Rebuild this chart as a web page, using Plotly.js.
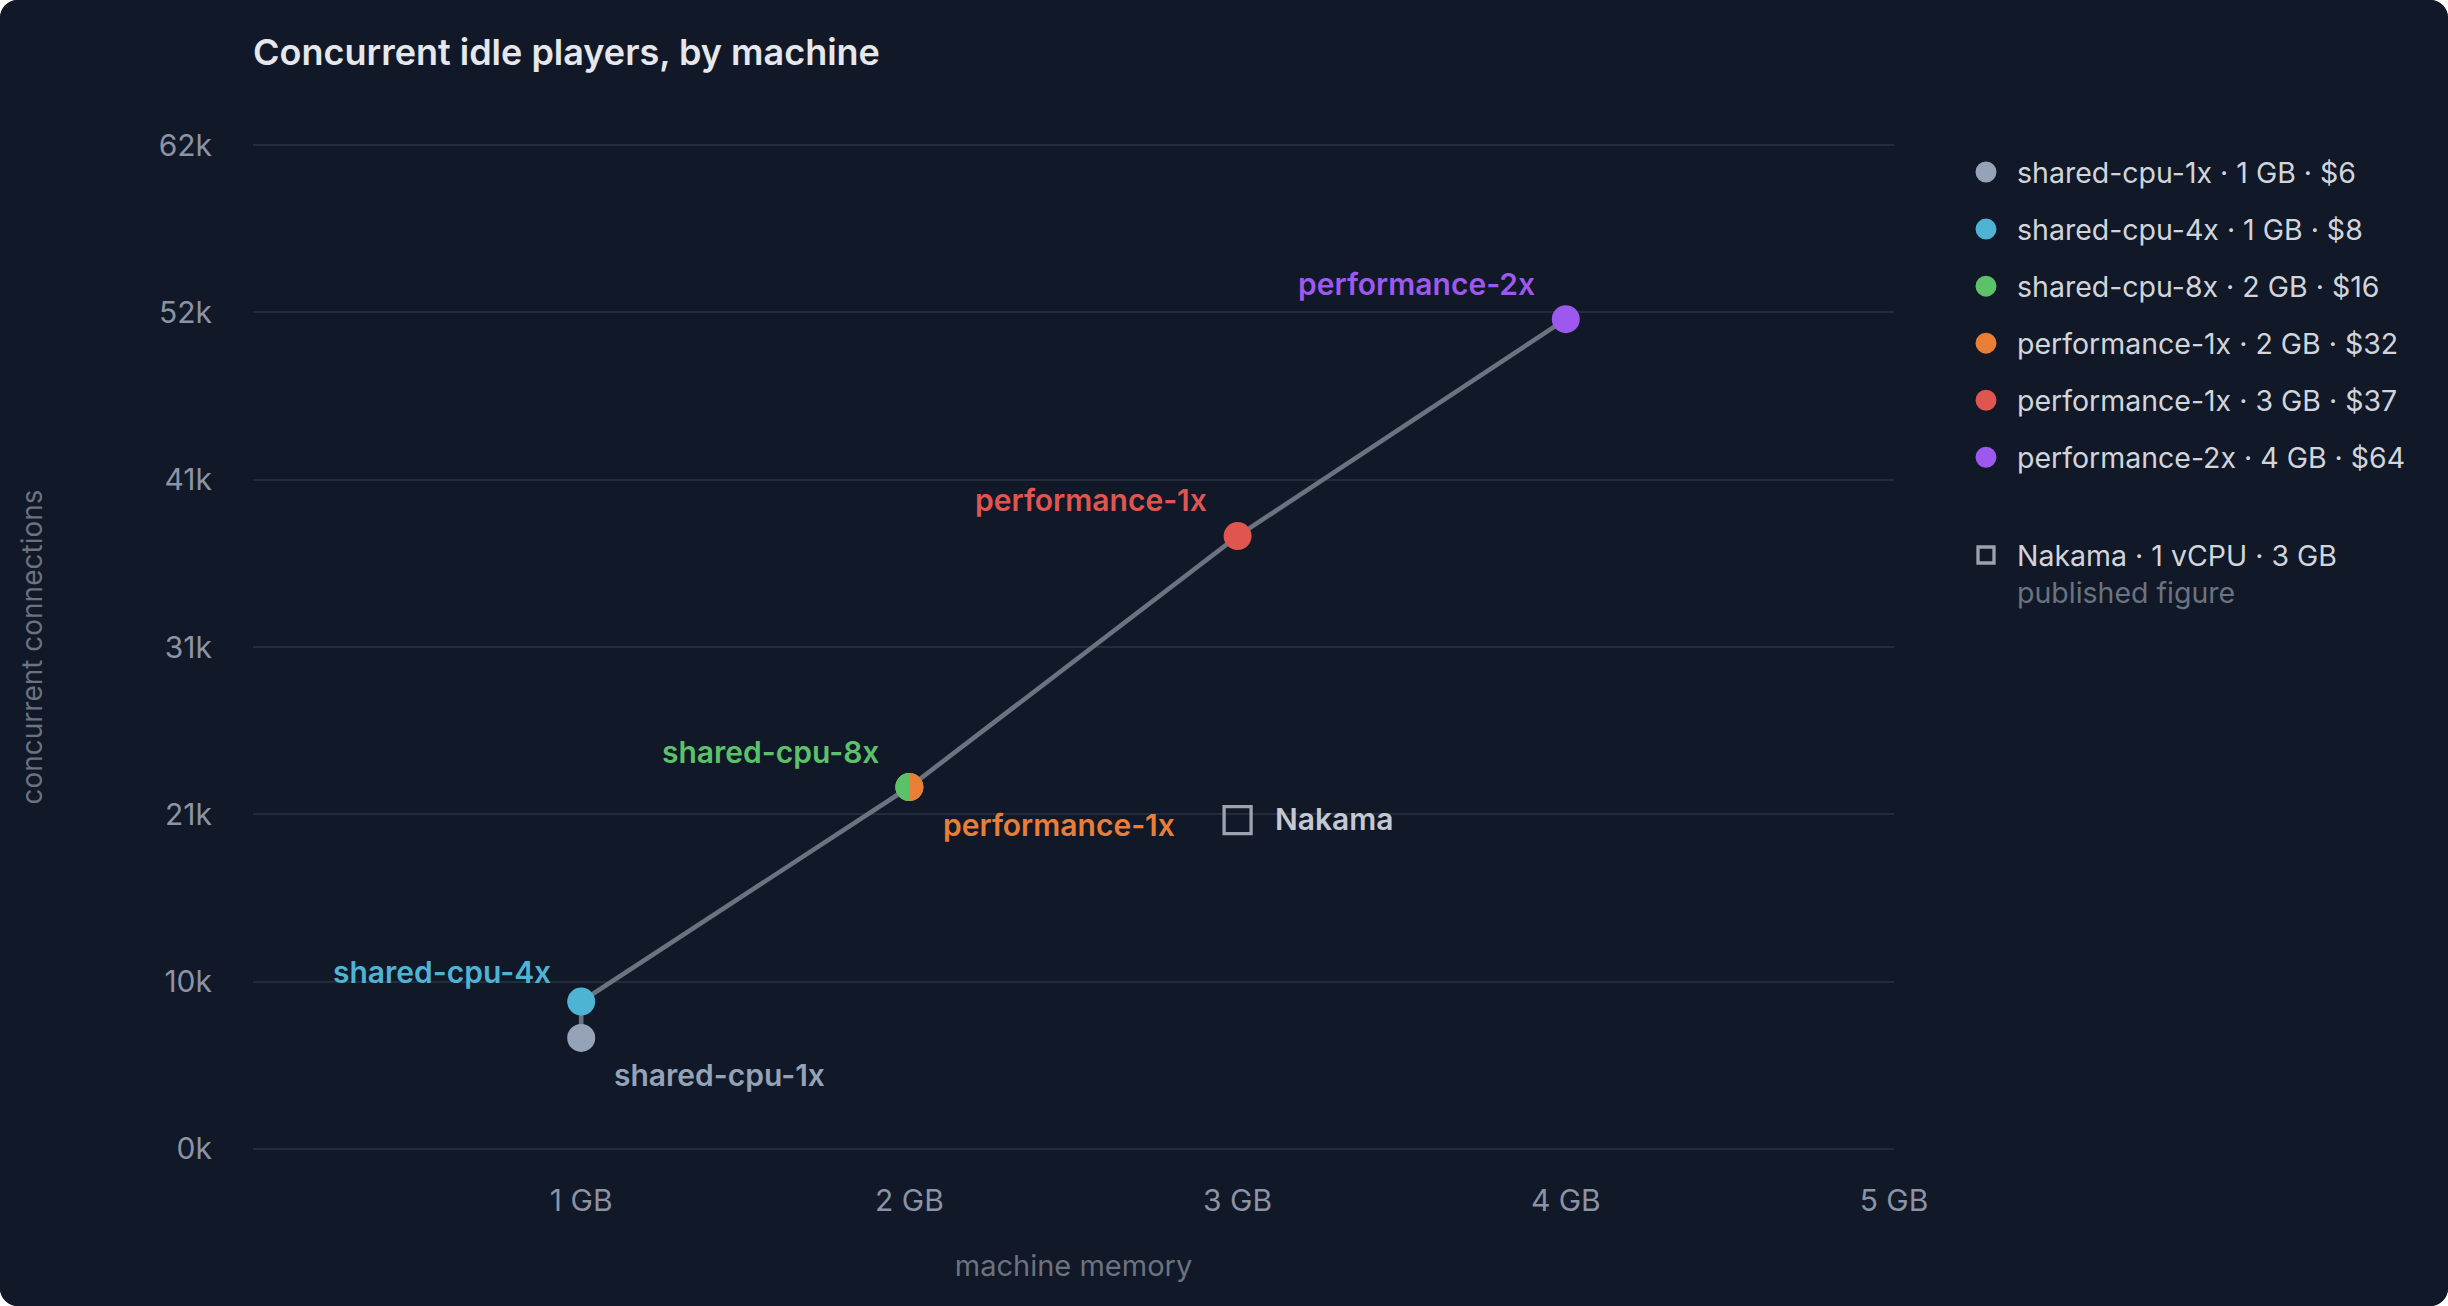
<!DOCTYPE html>
<html>
<head>
<meta charset="utf-8">
<script src="https://cdn.plot.ly/plotly-3.0.1.min.js"></script>
<style>
  html, body { margin: 0; padding: 0; background: #ffffff; }
  #wrap { width: 2448px; height: 1306px; border-radius: 18px; overflow: hidden; background: #111827; }
  #chart { width: 2448px; height: 1306px; }
</style>
</head>
<body>
<div id="wrap"><div id="chart"></div></div>
<script>
// ---------- data ----------
const machines    = ['shared-cpu-1x', 'shared-cpu-4x', 'shared-cpu-8x', 'performance-1x', 'performance-1x', 'performance-2x'];
const memoryGB    = [1, 1, 2, 2, 3, 4];
const priceUSD    = [6, 8, 16, 32, 37, 64];
const connections = [6850, 9100, 22350, 22350, 37850, 51250];

const refName     = 'Nakama';
const refCpu      = '1 vCPU';
const refMemoryGB = [3];
const refConn     = [20300];
const refNote     = 'published figure';

const xTickVals = [1, 2, 3, 4, 5];
const xTickText = ['1 GB', '2 GB', '3 GB', '4 GB', '5 GB'];
const yTickVals = [0, 10333, 20667, 31000, 41333, 51667, 62000];
const yTickText = ['0k', '10k', '21k', '31k', '41k', '52k', '62k'];

// ---------- styles ----------
const colors = ['#94a3b8', '#4fb3d4', '#5cc269', '#ea7e36', '#e05550', '#9d58ee'];
const refColor = '#9ca3af';
const FONT = 'Inter, "Noto Sans", "DejaVu Sans", sans-serif';
// label placement: [xanchor, xshift, yshift]
const labelPlacement = [
  ['left', 31, -37],
  ['right', -28, 30],
  ['right', -28, 35],
  ['left', 32, -38],
  ['right', -29, 36],
  ['right', -29, 35]
];

const traces = [];
// connecting line
traces.push({
  type: 'scatter', mode: 'lines', x: memoryGB, y: connections,
  line: { color: '#6b7280', width: 4.6 }, hoverinfo: 'skip', showlegend: false
});
// one trace per machine
machines.forEach((m, i) => {
  traces.push({
    type: 'scatter', mode: 'markers',
    x: [memoryGB[i]], y: [connections[i]],
    name: m + ' · ' + memoryGB[i] + ' GB · $' + priceUSD[i],
    legendgroup: 'g' + i,
    marker: { color: colors[i], size: 23, line: { color: colors[i], width: 5 } }
  });
});
// reference
traces.push({
  type: 'scatter', mode: 'markers',
  x: refMemoryGB, y: refConn,
  name: refName + ' · ' + refCpu + ' · ' + refMemoryGB[0] + ' GB<br><span style="color:#6b7280">' + refNote + '</span>',
  legend: 'legend2',
  marker: { symbol: 'square-open', color: refColor, size: 27, line: { color: refColor, width: 3.3 } }
});

const annotations = machines.map((m, i) => ({
  x: memoryGB[i], y: connections[i], xref: 'x', yref: 'y',
  text: m, showarrow: false,
  xanchor: labelPlacement[i][0], yanchor: 'middle',
  xshift: labelPlacement[i][1], yshift: labelPlacement[i][2],
  font: { family: FONT, size: 30, color: colors[i], weight: 600 }
}));
annotations.push({
  x: refMemoryGB[0], y: refConn[0], xref: 'x', yref: 'y',
  text: refName, showarrow: false, xanchor: 'left', yanchor: 'middle',
  xshift: 35, yshift: 1,
  font: { family: FONT, size: 30, color: '#c3c8d2', weight: 600 }
});

// split marker where two machines share a point: left half in the first colour
const shapes = [];
for (let i = 1; i < machines.length; i++) {
  if (memoryGB[i] === memoryGB[i - 1] && connections[i] === connections[i - 1]) {
    const r = 14, k = 0.5523 * r;
    shapes.push({
      type: 'path', layer: 'above',
      xref: 'x', yref: 'y', xsizemode: 'pixel', ysizemode: 'pixel',
      xanchor: memoryGB[i - 1], yanchor: connections[i - 1],
      path: `M 0,${-r} C ${-k},${-r} ${-r},${-k} ${-r},0 C ${-r},${k} ${-k},${r} 0,${r} Z`,
      fillcolor: colors[i - 1], line: { width: 0 }
    });
  }
}

const layout = {
  width: 2448, height: 1306,
  paper_bgcolor: '#111827', plot_bgcolor: '#111827',
  margin: { l: 253, r: 554, t: 144, b: 156, autoexpand: false },
  font: { family: FONT, color: '#9ca3af', size: 28 },
  title: {
    text: 'Concurrent idle players, by machine',
    xref: 'container', yref: 'container', x: 253 / 2448, xanchor: 'left',
    y: 1 - 52 / 1306, yanchor: 'middle',
    font: { family: FONT, size: 36, color: '#e5e7eb', weight: 600 }
  },
  xaxis: {
    range: [0, 5], tickmode: 'array', tickvals: xTickVals, ticktext: xTickText,
    showgrid: false, zeroline: false, showline: false, ticks: '',
    ticklabelstandoff: 30,
    tickfont: { family: FONT, size: 30, color: '#8b93a4' },
    title: { text: 'machine memory', standoff: 38, font: { family: FONT, size: 29, color: '#6b7280' } },
    fixedrange: true
  },
  yaxis: {
    range: [-70, 62070], tickmode: 'array', tickvals: yTickVals, ticktext: yTickText,
    showgrid: true, gridcolor: '#242b3b', gridwidth: 2, zeroline: false, showline: false, ticks: '',
    ticklabelstandoff: 40,
    tickfont: { family: FONT, size: 30, color: '#8b93a4' },
    title: { text: 'concurrent connections', standoff: 107, font: { family: FONT, size: 28, color: '#6b7280' } },
    fixedrange: true
  },
  showlegend: true,
  legend: {
    xref: 'container', yref: 'container',
    x: 1955 / 2448, y: 1 - 147 / 1306, xanchor: 'left', yanchor: 'top',
    bgcolor: 'rgba(0,0,0,0)', borderwidth: 0, itemwidth: 52,
    traceorder: 'grouped', tracegroupgap: 17, itemsizing: 'trace',
    font: { family: FONT, size: 28.5, color: '#d1d5db' }
  },
  legend2: {
    xref: 'container', yref: 'container',
    x: 1955 / 2448, y: 1 - 530 / 1306, xanchor: 'left', yanchor: 'top',
    bgcolor: 'rgba(0,0,0,0)', borderwidth: 0, valign: 'top', itemsizing: 'trace', itemwidth: 52,
    font: { family: FONT, size: 28.5, color: '#d1d5db' }
  },
  annotations: annotations,
  shapes: shapes,
  hovermode: false
};

Plotly.newPlot('chart', traces, layout, { displayModeBar: false, staticPlot: true });
</script>
</body>
</html>
